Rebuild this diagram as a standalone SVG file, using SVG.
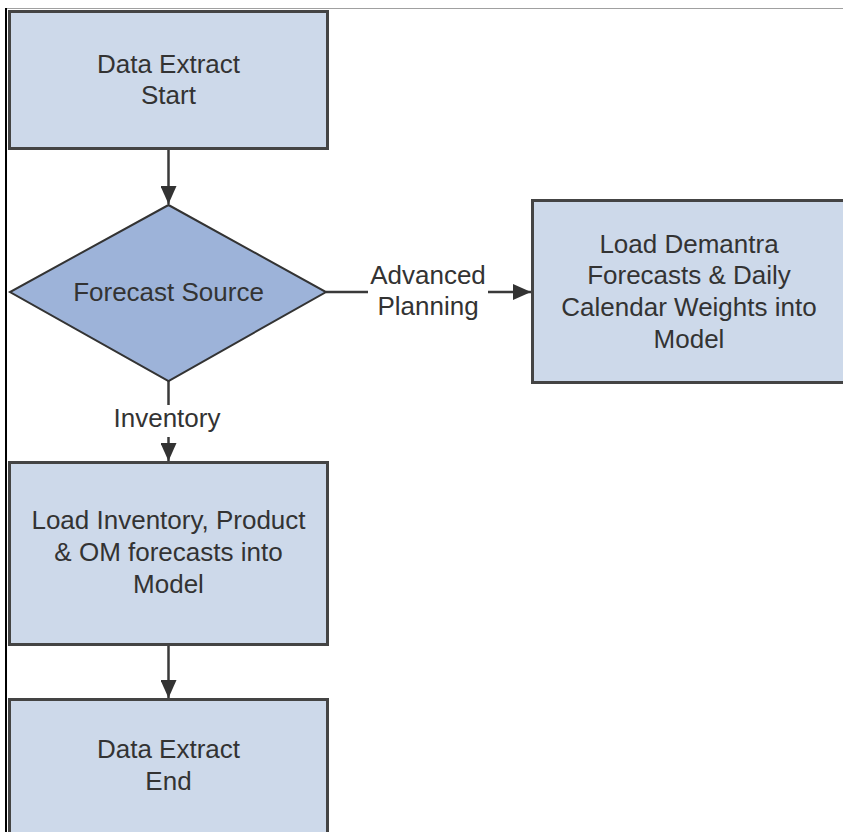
<svg xmlns="http://www.w3.org/2000/svg" width="843" height="832" viewBox="0 0 843 832">
<style>
.box{fill:#cdd9ea;stroke:#444;stroke-width:3}
.dia{fill:#9db3d9;stroke:#333;stroke-width:2}
.t{font-family:"Liberation Sans",Arial,sans-serif;font-size:26px;fill:#333;text-anchor:middle}
.c{stroke:#3a3a3a;stroke-width:2.5;fill:none}
</style>
<defs>
<marker id="ah" markerUnits="userSpaceOnUse" markerWidth="18" markerHeight="16" refX="18" refY="8" orient="auto">
<path d="M0,0 L18,8 L0,16 Z" fill="#333"/>
</marker>
</defs>
<rect width="843" height="832" fill="#fff"/>
<line x1="5" y1="8.5" x2="843" y2="8.5" stroke="#a0a0a0" stroke-width="1"/>
<line x1="6" y1="8" x2="6" y2="832" stroke="#000" stroke-width="2"/>
<g id="connectors">
<line class="c" x1="168.5" y1="149" x2="168.5" y2="204" marker-end="url(#ah)"/>
<line class="c" x1="326" y1="292" x2="368" y2="292"/>
<line class="c" x1="488" y1="292" x2="531" y2="292" marker-end="url(#ah)"/>
<text class="t" x="428" y="284">Advanced</text>
<text class="t" x="428" y="315">Planning</text>
<line class="c" x1="168.5" y1="381" x2="168.5" y2="405"/>
<text class="t" x="167" y="427">Inventory</text>
<line class="c" x1="168.5" y1="437" x2="168.5" y2="461" marker-end="url(#ah)"/>
<line class="c" x1="168.5" y1="645" x2="168.5" y2="698" marker-end="url(#ah)"/>
</g>
<g id="start">
<rect class="box" x="9.5" y="11.5" width="318" height="137"/>
<text class="t" x="168.5" y="73">Data Extract</text>
<text class="t" x="168.5" y="104">Start</text>
</g>
<g id="decision">
<polygon class="dia" points="168.5,205 326,292 168.5,381 10,292"/>
<text class="t" x="168.5" y="301">Forecast Source</text>
</g>
<g id="demantra">
<rect class="box" x="532.5" y="200.5" width="330" height="182"/>
<text class="t" x="689" y="253">Load Demantra</text>
<text class="t" x="689" y="284">Forecasts &amp; Daily</text>
<text class="t" x="689" y="316">Calendar Weights into</text>
<text class="t" x="689" y="348">Model</text>
</g>
<g id="inventory">
<rect class="box" x="9.5" y="462.5" width="318" height="182"/>
<text class="t" x="168.5" y="529">Load Inventory, Product</text>
<text class="t" x="168.5" y="561">&amp; OM forecasts into</text>
<text class="t" x="168.5" y="593">Model</text>
</g>
<g id="end">
<rect class="box" x="9.5" y="699.5" width="318" height="160"/>
<text class="t" x="168.5" y="758">Data Extract</text>
<text class="t" x="168.5" y="790">End</text>
</g>
</svg>
